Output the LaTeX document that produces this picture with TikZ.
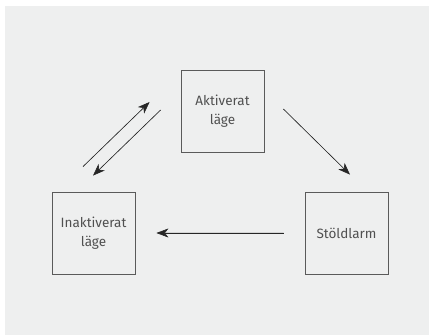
\documentclass[tikz,border=0pt]{standalone}
\usepackage{fontspec}
\setmainfont{Fira Sans}
\usetikzlibrary{arrows.meta}
\definecolor{bgpanel}{HTML}{EEEFEF}
\definecolor{boxline}{HTML}{5A5A5A}
\definecolor{txtgray}{HTML}{505050}
\tikzset{
  statebox/.style={draw=boxline, line width=0.8pt, minimum width=83pt, minimum height=82pt,
    align=center, inner sep=0pt, font={\fontsize{13.5pt}{19pt}\selectfont}, text=txtgray},
  arr/.style={-{Stealth[length=12pt,width=9pt,inset=3.5pt]}, line width=0.6pt, draw=black!85, fill=black!85}
}
\begin{document}
\begin{tikzpicture}[x=1pt,y=1pt]
\useasboundingbox (0,0) rectangle (429,335);
\fill[bgpanel] (5,0) rectangle (429,329);
\node[statebox] (aktiv) at (222.5,223.5) {Aktiverat\\läge};
\node[statebox] (inakt) at (93.5,102) {Inaktiverat\\läge};
\node[statebox] (stold) at (346.5,102) {Stöldlarm};
\draw[arr] ([shift={(-10.5,25)}]inakt.north) -- ([shift={(-31,9.5)}]aktiv.west);
\draw[arr] ([shift={(-20,1.5)}]aktiv.west) -- ([shift={(-0.5,16)}]inakt.north);
\draw[arr] ([shift={(19,2.5)}]aktiv.east) -- ([shift={(3.5,17)}]stold.north);
\draw[arr, shorten <=21pt, shorten >=21pt] (stold) -- (inakt);
\end{tikzpicture}
\end{document}
